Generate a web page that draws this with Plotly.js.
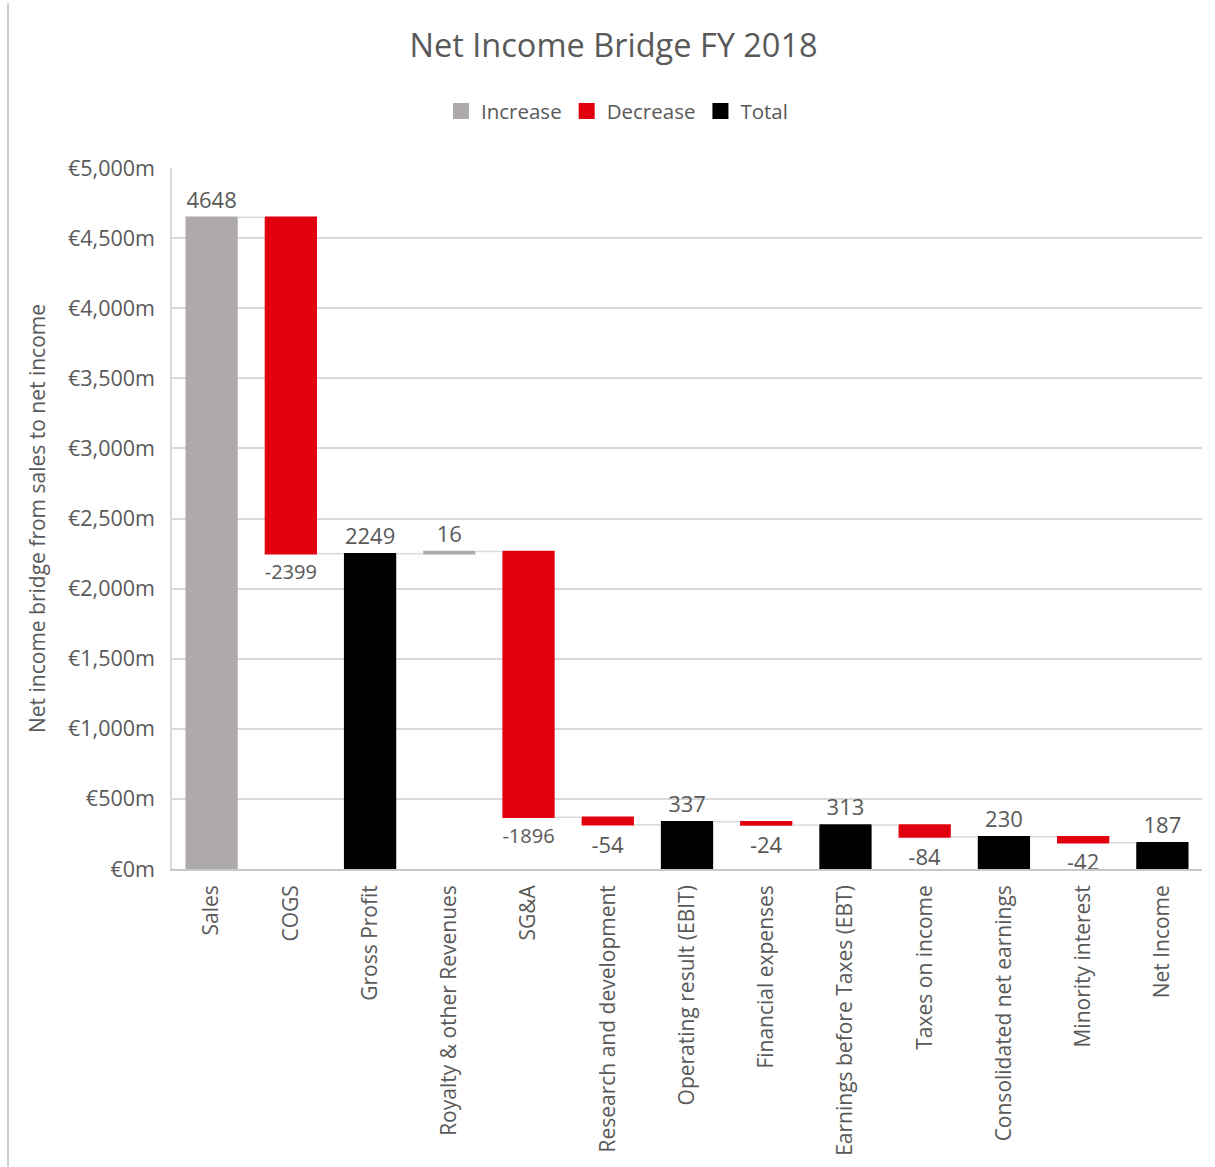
<!DOCTYPE html>
<html>
<head>
<meta charset="utf-8">
<script src="https://cdn.plot.ly/plotly-3.0.1.min.js"></script>
<style>html,body{margin:0;padding:0;background:#fff;}#chart{width:1215px;height:1167px;}</style>
</head>
<body>
<div id="chart"></div>
<script>
const categories = ["Sales", "COGS", "Gross Profit", "Royalty & other Revenues", "SG&A",
  "Research and development", "Operating result (EBIT)", "Financial expenses",
  "Earnings before Taxes (EBT)", "Taxes on income", "Consolidated net earnings",
  "Minority interest", "Net Income"];
const values = [4648, -2399, 2249, 16, -1896, -54, 337, -24, 313, -84, 230, -42, 187];
const measures = ["relative", "relative", "absolute", "relative", "relative", "relative",
  "absolute", "relative", "absolute", "relative", "absolute", "relative", "absolute"];
const legendNames = ["Increase", "Decrease", "Total"];
const colors = {inc: "#AEAAAA", dec: "#E2000F", tot: "#000000"};

const textColor = "#595959";
const font = "Open Sans, Liberation Sans, sans-serif";

const waterfall = {
  type: "waterfall",
  x: categories,
  y: values,
  measure: measures,
  text: values.map(v => String(v)),
  textinfo: "text",
  textposition: "outside",
  cliponaxis: false,
  textfont: {family: font, size: 22, color: textColor},
  increasing: {marker: {color: colors.inc}},
  decreasing: {marker: {color: colors.dec}},
  totals: {marker: {color: colors.tot}},
  connector: {mode: "between", line: {color: "#D9D9D9", width: 1.5}},
  showlegend: false,
  hoverinfo: "x+y"
};

const legendColors = [colors.inc, colors.dec, colors.tot];
const legendTraces = legendNames.map((n, i) => ({
  type: "scatter", mode: "markers", name: n, x: [null], y: [null],
  marker: {color: legendColors[i], symbol: "square", size: 16},
  xaxis: "x2", yaxis: "y2", showlegend: true
}));

const layout = {
  width: 1215, height: 1167,
  paper_bgcolor: "#fff", plot_bgcolor: "#fff",
  margin: {l: 172, r: 13, t: 168, b: 298},
  font: {family: font, color: textColor, size: 21},
  title: {text: "Net Income Bridge FY 2018", x: 0.505, xref: "container", xanchor: "center",
          y: 0.961, yref: "container", yanchor: "middle",
          font: {family: font, size: 32.5, color: textColor}},
  showlegend: true,
  legend: {orientation: "h", x: 0.432, xanchor: "center", y: 1.081, yanchor: "middle",
           font: {family: font, size: 20.5, color: textColor}, traceorder: "normal",
           itemwidth: 30},
  waterfallgap: 0.34,
  xaxis: {type: "category", tickangle: -90, showline: true, linecolor: "#C8C8C8", linewidth: 1.5,
          ticks: "", showgrid: false, ticklabelstandoff: 6,
          tickfont: {family: font, size: 21, color: textColor},
          range: [-0.5, 12.5]},
  yaxis: {range: [0, 5000], dtick: 500, tickprefix: "€", ticksuffix: "m", tickformat: ",d",
          showgrid: true, gridcolor: "#D9D9D9", gridwidth: 1.5, showline: true, linecolor: "#D9D9D9",
          linewidth: 1.5, zeroline: false, ticks: "", ticklabelstandoff: 11,
          tickfont: {family: font, size: 21.5, color: textColor},
          title: {text: "Net income bridge from sales to net income", standoff: 17,
                  font: {family: font, size: 21, color: textColor}}},
  xaxis2: {overlaying: "x", visible: false, range: [0, 1]},
  yaxis2: {overlaying: "y", visible: false, range: [0, 1]},
  shapes: [{type: "line", xref: "paper", yref: "paper", x0: -0.1592, x1: -0.1592,
            y0: -0.425, y1: 1.235, line: {color: "#BFBFBF", width: 1.5}}]
};

Plotly.newPlot("chart", [waterfall].concat(legendTraces), layout, {displayModeBar: false});
</script>
</body>
</html>
